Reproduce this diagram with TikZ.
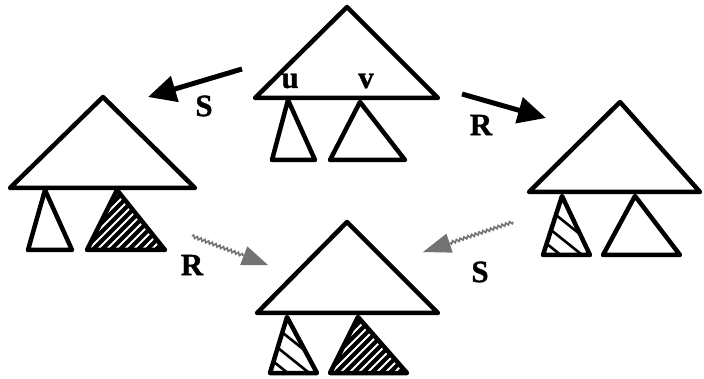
\documentclass[tikz,border=0pt]{standalone}
\usepackage{fontspec}
\setmainfont{Liberation Serif}
\newfontface\heavyface{Liberation Serif Bold}[FakeBold=1.2]
\usetikzlibrary{arrows.meta,decorations.pathmorphing,calc}
\newcommand{\lblfont}{\fontsize{31pt}{33pt}\heavyface}
\tikzset{
  tri/.style={draw=black,line width=4.5pt,line join=round},
  lbl/.style={font=\lblfont,inner sep=0pt,anchor=center},
  blackarrow/.style={line width=5pt,-{Triangle[length=28pt,width=26pt]}},
  wave/.style={draw=black!55,line width=1.6pt,decorate,decoration={snake,amplitude=1.4pt,segment length=4pt}},
  grayhead/.style={fill=black!55}
}
\newcommand{\plaintri}[3]{\draw[tri] #1 -- #2 -- #3 -- cycle;}
\newcommand{\darktri}[3]{%
  \begin{scope}
    \clip #1 -- #2 -- #3 -- cycle;
    \fill[black] #1 -- #2 -- #3 -- cycle;
    \path #2 coordinate (dbl);
    \foreach \k in {-120,-111,...,120}{
      \draw[white,line width=1.8pt] ($(dbl)+(\k,4)$) -- ++(90,-90);
    }
  \end{scope}
  \draw[tri] #1 -- #2 -- #3 -- cycle;}
\newcommand{\lighttri}[3]{%
  \begin{scope}
    \clip #1 -- #2 -- #3 -- cycle;
    \fill[white] #1 -- #2 -- #3 -- cycle;
    \path #2 coordinate (lbl);
    \foreach \dx/\dy in {13/-40,8/-25,4/-11}{
      \draw[black,line width=2.6pt] ($(lbl)+(\dx,\dy)+(-40,-32)$) -- ++(100,80);
    }
  \end{scope}
  \draw[tri] #1 -- #2 -- #3 -- cycle;}
\begin{document}
\begin{tikzpicture}[x=1pt,y=-1pt]
\useasboundingbox (0,0) rectangle (704,379);
% top tree
\plaintri{(347,7)}{(255,98)}{(438,98)}
\plaintri{(288,100)}{(272,160)}{(315,160)}
\plaintri{(360,102)}{(330,160)}{(405,160)}
\node[lbl] (u) at (290,81) {u};
\node[lbl] (v) at (366,81) {v};
% left tree
\plaintri{(103,97)}{(10,188)}{(195,188)}
\plaintri{(45,190)}{(28,250)}{(72,250)}
\darktri{(117,190)}{(87,250)}{(165,250)}
% right tree
\plaintri{(620,102)}{(529,192)}{(700,192)}
\lighttri{(562,196)}{(543,255)}{(590,255)}
\plaintri{(635,196)}{(603,255)}{(680,255)}
% bottom tree
\plaintri{(347,222)}{(257,313)}{(438,313)}
\lighttri{(287,317)}{(270,373)}{(317,373)}
\darktri{(358,317)}{(330,373)}{(407,373)}
% black arrows
\coordinate (s1a) at (242,69);
\coordinate (s1b) at (148,97);
\draw[blackarrow] (s1a) -- (s1b);
\node[lbl] (S1) at (204,106) {S};
\coordinate (r1a) at (462,94);
\coordinate (r1b) at (546,118);
\draw[blackarrow] (r1a) -- (r1b);
\node[lbl] (R1) at (481,125) {R};
% gray wavy arrows
\coordinate (r2a) at (192,236);
\coordinate (r2t) at (268,265);
\coordinate (r2b) at ($(r2t)!26pt!(r2a)$);
\draw[wave] (r2a) -- (r2b);
\fill[grayhead] (r2t) -- ($(r2b)!10pt!90:(r2t)$) -- ($(r2b)!10pt!-90:(r2t)$) -- cycle;
\node[lbl] (R2) at (192,265) {R};
\coordinate (s2a) at (513,222);
\coordinate (s2t) at (423,252);
\coordinate (s2b) at ($(s2t)!28pt!(s2a)$);
\draw[wave] (s2a) -- (s2b);
\fill[grayhead] (s2t) -- ($(s2b)!10pt!90:(s2t)$) -- ($(s2b)!10pt!-90:(s2t)$) -- cycle;
\node[lbl] (S2) at (480,272) {S};
\end{tikzpicture}
\end{document}
